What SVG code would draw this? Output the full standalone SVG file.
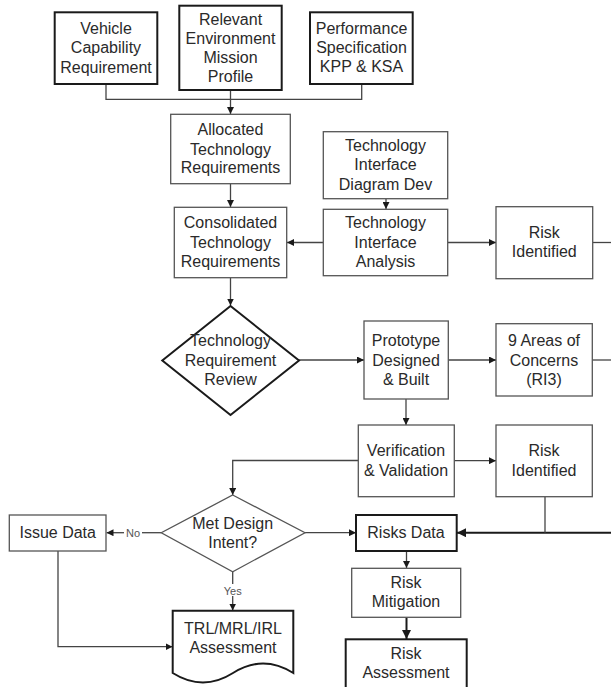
<svg xmlns="http://www.w3.org/2000/svg" width="611" height="687" viewBox="0 0 611 687">
<style>
.thick{fill:#fff;stroke:#1a1a1a;stroke-width:2}
.thin{fill:#fff;stroke:#555;stroke-width:1.3}
.ln{fill:none;stroke:#444;stroke-width:1.3}
.lnb{fill:none;stroke:#1a1a1a;stroke-width:2}
text{font-family:"Liberation Sans",Arial,sans-serif;font-size:16px;fill:#2a2a2a;text-anchor:middle}
.sm{font-size:11px;fill:#555}
</style>
<defs>
<marker id="a" viewBox="0 0 10 10" refX="10" refY="5" markerWidth="7" markerHeight="7" markerUnits="userSpaceOnUse" orient="auto"><path d="M0,0 L10,5 L0,10 z" fill="#1a1a1a"/></marker>
<marker id="ab" viewBox="0 0 10 10" refX="10" refY="5" markerWidth="9" markerHeight="9" markerUnits="userSpaceOnUse" orient="auto"><path d="M0,0 L10,5 L0,10 z" fill="#1a1a1a"/></marker>
</defs>
<g id="connectors">
<path class="ln" d="M106,84 V99.3 H361.7 V84"/>
<path class="ln" d="M230.5,90 V114" marker-end="url(#a)"/>
<path class="ln" d="M230.5,183.7 V207" marker-end="url(#a)"/>
<path class="ln" d="M386,198.7 V209" marker-end="url(#a)"/>
<path class="ln" d="M323.3,242.5 H287" marker-end="url(#a)"/>
<path class="ln" d="M447.7,242.5 H496" marker-end="url(#a)"/>
<path class="ln" d="M592.7,242.5 H611"/>
<path class="ln" d="M230.5,277.7 V305.5" marker-end="url(#a)"/>
<path class="ln" d="M299,360 H364" marker-end="url(#a)"/>
<path class="ln" d="M448.3,360 H496" marker-end="url(#a)"/>
<path class="ln" d="M592.3,360 H611"/>
<path class="ln" d="M406,399 V425" marker-end="url(#a)"/>
<path class="ln" d="M454.3,460.7 H496" marker-end="url(#a)"/>
<path class="ln" d="M358.3,460.5 H232.7 V495" marker-end="url(#a)"/>
<path class="ln" d="M161.3,532.7 H142"/>
<path class="ln" d="M124,532.7 H106.5" marker-end="url(#a)"/>
<text class="sm" x="133" y="536.5">No</text>
<path class="ln" d="M232.7,571.7 V584"/>
<path class="ln" d="M232.7,596 V610.5" marker-end="url(#a)"/>
<text class="sm" x="232.7" y="594.5">Yes</text>
<path class="ln" d="M58,551 V646.7 H172.5" marker-end="url(#a)"/>
<path class="ln" d="M305,532.7 H356" marker-end="url(#a)"/>
<path class="lnb" d="M611,532.7 H457" marker-end="url(#ab)"/>
<path class="ln" d="M545,496.7 V532.7"/>
<path class="ln" d="M406.5,551 V568" marker-end="url(#a)"/>
<path class="lnb" d="M406.5,617.3 V639" marker-end="url(#ab)"/>
</g>
<g id="vehicle"><rect class="thick" x="54.7" y="12.3" width="102.6" height="71.7"/>
<text x="106" y="33.5">Vehicle</text><text x="106" y="53">Capability</text><text x="106" y="72.5">Requirement</text></g>
<g id="relevant"><rect class="thick" x="179.3" y="5.7" width="102.4" height="84.3"/>
<text x="230.5" y="24.5">Relevant</text><text x="230.5" y="43.5">Environment</text><text x="230.5" y="62.8">Mission</text><text x="230.5" y="81.5">Profile</text></g>
<g id="performance"><rect class="thick" x="310" y="12.3" width="102.7" height="71.7"/>
<text x="361.5" y="33.8">Performance</text><text x="361.5" y="52.8">Specification</text><text x="361.5" y="72.2">KPP &amp; KSA</text></g>
<g id="allocated"><rect class="thin" x="170.7" y="114.3" width="119.6" height="69.4"/>
<text x="230.5" y="134.5">Allocated</text><text x="230.5" y="154.5">Technology</text><text x="230.5" y="173.2">Requirements</text></g>
<g id="tidd"><rect class="thin" x="323.3" y="131.7" width="124.4" height="67"/>
<text x="385.5" y="150.5">Technology</text><text x="385.5" y="169.8">Interface</text><text x="385.5" y="189.5">Diagram Dev</text></g>
<g id="tia"><rect class="thin" x="323.3" y="209.3" width="124.4" height="66.4"/>
<text x="385.5" y="228.2">Technology</text><text x="385.5" y="247.8">Interface</text><text x="385.5" y="266.5">Analysis</text></g>
<g id="risk1"><rect class="thin" x="496" y="206.7" width="96.7" height="72"/>
<text x="544.3" y="237.8">Risk</text><text x="544.3" y="257.2">Identified</text></g>
<g id="consolidated"><rect class="thin" x="174.3" y="207.3" width="112.4" height="70.4"/>
<text x="230.5" y="228.2">Consolidated</text><text x="230.5" y="247.8">Technology</text><text x="230.5" y="266.5">Requirements</text></g>
<g id="trr"><polygon class="thick" points="230.5,306 299,360.5 230.5,415 162.3,360.5"/>
<text x="230.5" y="346.2">Technology</text><text x="230.5" y="365.5">Requirement</text><text x="230.5" y="384.5">Review</text></g>
<g id="prototype"><rect class="thin" x="364" y="321" width="84.3" height="78"/>
<text x="406" y="346.2">Prototype</text><text x="406" y="365.5">Designed</text><text x="406" y="384.5">&amp; Built</text></g>
<g id="areas"><rect class="thin" x="496" y="323.7" width="96.3" height="72.3"/>
<text x="544" y="346.2">9 Areas of</text><text x="544" y="365.5">Concerns</text><text x="544" y="384.5">(RI3)</text></g>
<g id="vv"><rect class="thin" x="358.3" y="425" width="96" height="71.7"/>
<text x="406" y="456.2">Verification</text><text x="406" y="475.5">&amp; Validation</text></g>
<g id="risk2"><rect class="thin" x="496" y="425" width="96.3" height="71.7"/>
<text x="544" y="456.2">Risk</text><text x="544" y="475.5">Identified</text></g>
<g id="met"><polygon class="thin" points="232.7,495 305,532.7 232.7,571.7 161.3,532.7"/>
<text x="232.7" y="528.8">Met Design</text><text x="232.7" y="548.2">Intent?</text></g>
<g id="issue"><rect class="thin" x="9.3" y="515" width="96.7" height="36"/>
<text x="57.7" y="538.2">Issue Data</text></g>
<g id="trl"><path class="thick" d="M172.7,610.7 H293.3 V673 Q263,654 233,673 T172.7,673 Z"/>
<text x="233" y="633.8">TRL/MRL/IRL</text><text x="233" y="652.8">Assessment</text></g>
<g id="risksdata"><rect class="thick" x="356" y="515" width="100.7" height="36"/>
<text x="406" y="537.8">Risks Data</text></g>
<g id="mitigation"><rect class="thin" x="351.7" y="568.3" width="109" height="49"/>
<text x="406" y="588.2">Risk</text><text x="406" y="607.2">Mitigation</text></g>
<g id="assessment"><rect class="thick" x="345.7" y="639.3" width="121" height="60"/>
<text x="406" y="658.8">Risk</text><text x="406" y="678.2">Assessment</text></g>
</svg>
